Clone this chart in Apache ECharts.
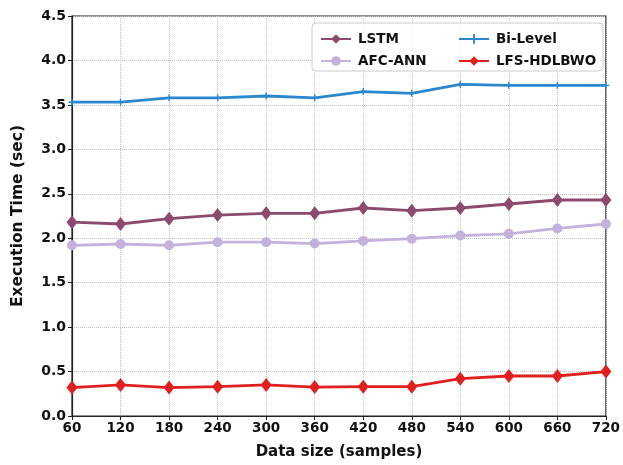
<!DOCTYPE html>
<html>
<head>
<meta charset="utf-8">
<script src="https://cdn.jsdelivr.net/npm/echarts@6/dist/echarts.min.js"></script>
<style>html,body{margin:0;padding:0;background:#fff;}#c{width:623px;height:465px;}</style>
</head>
<body>
<div id="c"></div>
<script>
var xValues = [60,120,180,240,300,360,420,480,540,600,660,720];
var lstm = [2.18,2.16,2.22,2.26,2.28,2.28,2.34,2.31,2.34,2.385,2.43,2.43];
var afcAnn = [1.92,1.935,1.92,1.955,1.955,1.94,1.97,1.995,2.03,2.05,2.11,2.16];
var biLevel = [3.53,3.53,3.58,3.58,3.60,3.58,3.65,3.63,3.73,3.72,3.72,3.72];
var lfs = [0.32,0.35,0.32,0.33,0.35,0.325,0.33,0.33,0.42,0.45,0.45,0.50];
var names = ['LSTM','AFC-ANN','Bi-Level','LFS-HDLBWO'];

function pairs(arr){ return xValues.map(function(x,i){ return [x, arr[i]]; }); }
var font = 'DejaVu Sans';
var plus = 'path://M4,0 L6,0 L6,4 L10,4 L10,6 L6,6 L6,10 L4,10 L4,6 L0,6 L0,4 L4,4 Z';

var chart = echarts.init(document.getElementById('c'), null, {renderer:'canvas'});
var legendText = {fontFamily:font,fontWeight:'bold',fontSize:13.5,color:'#111',padding:[0,0,0,2]};
var option = {
  animation:false,
  backgroundColor:'#fff',
  grid:{left:72,right:12,top:16,bottom:49,show:true,borderColor:'#222',borderWidth:1.2,backgroundColor:'transparent'},
  graphic:[{type:'rect',shape:{x:312,y:23,width:291,height:48,r:4},style:{fill:'rgba(255,255,255,0.85)',stroke:'#cccccc',lineWidth:1},z:90}],
  legend:[
    {data:[names[0],names[1]],orient:'vertical',left:315,top:27,itemGap:8,itemWidth:30,itemHeight:12,z:100,
     textStyle:legendText},
    {data:[names[2],names[3]],orient:'vertical',left:453,top:27,itemGap:8,itemWidth:30,itemHeight:12,z:100,
     textStyle:legendText}
  ],
  xAxis:{type:'value',min:60,max:720,interval:60,
    name:'Data size (samples)',nameLocation:'middle',nameGap:29,
    nameTextStyle:{fontFamily:font,fontWeight:'bold',fontSize:15,color:'#111'},
    axisLine:{show:true,lineStyle:{color:'#222',width:1.2}},
    axisTick:{show:true,length:4,lineStyle:{color:'#222'}},
    axisLabel:{fontFamily:font,fontWeight:'bold',fontSize:13.5,color:'#111',margin:5},
    splitLine:{show:true,lineStyle:{type:'dotted',color:'#c4c4c4',width:1}}},
  yAxis:{type:'value',min:0,max:4.5,interval:0.5,
    name:'Execution Time (sec)',nameLocation:'middle',nameGap:46,
    nameTextStyle:{fontFamily:font,fontWeight:'bold',fontSize:15.5,color:'#111'},
    axisLine:{show:true,lineStyle:{color:'#222',width:1.2}},
    axisTick:{show:true,length:4,lineStyle:{color:'#222'}},
    axisLabel:{fontFamily:font,fontWeight:'bold',fontSize:14,color:'#111',margin:6,
      formatter:function(v){return v.toFixed(1);}},
    splitLine:{show:true,lineStyle:{type:'dotted',color:'#c4c4c4',width:1}}},
  series:[
    {name:names[0],type:'line',data:pairs(lstm),color:'#8c4a6d',symbol:'diamond',symbolSize:[11,14],
     lineStyle:{width:2.8},itemStyle:{color:'#8c4a6d'},z:3},
    {name:names[1],type:'line',data:pairs(afcAnn),color:'#c3b2dc',symbol:'circle',symbolSize:10,
     lineStyle:{width:2.8},itemStyle:{color:'#c3b2dc'},z:2},
    {name:names[2],type:'line',data:pairs(biLevel),color:'#2b88cf',symbol:plus,symbolSize:7,
     lineStyle:{width:2.8},itemStyle:{color:'#2b88cf'},z:4},
    {name:names[3],type:'line',data:pairs(lfs),color:'#e0201f',symbol:'diamond',symbolSize:[11,14],
     lineStyle:{width:2.8},itemStyle:{color:'#e0201f'},z:5}
  ]
};
chart.setOption(option);
</script>
</body>
</html>
